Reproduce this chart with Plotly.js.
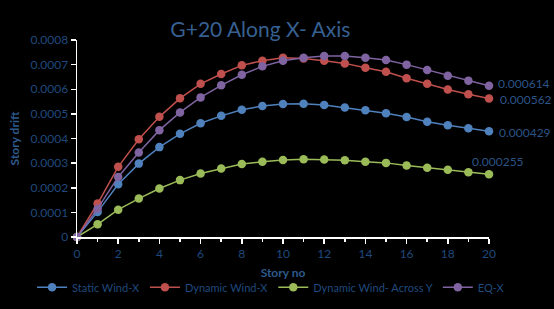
<!DOCTYPE html>
<html>
<head>
<meta charset="utf-8">
<script src="https://cdn.plot.ly/plotly-3.0.1.min.js"></script>
<style>html,body{margin:0;padding:0;background:#000;}#chart{width:554px;height:309px;}</style>
</head>
<body>
<div id="chart"></div>
<script>
var storyNo = [0,1,2,3,4,5,6,7,8,9,10,11,12,13,14,15,16,17,18,19,20];
var staticWindX = [0,0.000102,0.000214,0.000298,0.000365,0.000419,0.000462,0.000492,0.000517,0.000532,0.000540,0.000541,0.000536,0.000526,0.000515,0.000503,0.000487,0.000468,0.000454,0.000442,0.000429];
var dynamicWindX = [0,0.000136,0.000285,0.000397,0.000488,0.000563,0.000622,0.000662,0.000697,0.000716,0.000728,0.000725,0.000716,0.000705,0.000687,0.000671,0.000645,0.000622,0.000599,0.000580,0.000562];
var dynamicWindAcrossY = [0,0.0000515,0.000111,0.000156,0.000197,0.000231,0.000258,0.000278,0.000296,0.000306,0.000313,0.000316,0.000315,0.000312,0.000306,0.000301,0.000290,0.000281,0.000273,0.000263,0.000255];
var eqX = [0,0.000115,0.000244,0.000343,0.000434,0.000506,0.000567,0.000616,0.000659,0.000693,0.000716,0.000728,0.000735,0.000735,0.000728,0.000719,0.000700,0.000678,0.000655,0.000635,0.000614];
var seriesNames = ["Static Wind-X","Dynamic Wind-X","Dynamic Wind- Across Y","EQ-X"];
var lastLabels = ["0.000429","0.000562","0.000255","0.000614"];
var yTickVals = [0,0.0001,0.0002,0.0003,0.0004,0.0005,0.0006,0.0007,0.0008];
var yTickText = ["0","0.0001","0.0002","0.0003","0.0004","0.0005","0.0006","0.0007","0.0008"];

var colors = ["#4F81BD","#C0504D","#9BBB59","#8064A2"];
var seriesData = [staticWindX, dynamicWindX, dynamicWindAcrossY, eqX];
var textColor = "#1F497D";
var FONT = "Lato, 'Open Sans', sans-serif";

var traces = seriesData.map(function(vals, i){
  return {
    x: storyNo, y: vals, name: seriesNames[i], type: "scatter",
    mode: "lines+markers",
    line: {color: colors[i], width: 1.5},
    marker: {color: colors[i], size: 8.5},
    cliponaxis: false
  };
});

// data labels for the last point of each series
var labelStyle = [
  {dx: 8, dy: -1, xa: "left", ya: "middle"},
  {dx: 9, dy: -1, xa: "left", ya: "middle"},
  {dx: 9, dy: 3, xa: "center", ya: "bottom"},
  {dx: 7, dy: 2, xa: "left", ya: "middle"}
];
var annotations = seriesData.map(function(vals, i){
  var n = vals.length - 1;
  return {
    x: storyNo[n], y: vals[n], xref: "x", yref: "y", text: lastLabels[i], showarrow: false,
    xanchor: labelStyle[i].xa, yanchor: labelStyle[i].ya,
    xshift: labelStyle[i].dx, yshift: labelStyle[i].dy,
    font: {color: "#2B5486", size: 12, family: FONT}
  };
});

var layout = {
  width: 554, height: 309,
  paper_bgcolor: "#000000", plot_bgcolor: "#000000",
  margin: {l: 77, r: 65, t: 40, b: 72, autoexpand: false},
  font: {family: FONT, color: textColor},
  title: {text: "G+20 Along X- Axis", font: {size: 21, color: "#376092", family: FONT}, x: 0.47, xanchor: "center", y: 0.905, yanchor: "middle"},
  xaxis: {
    range: [0, 20], dtick: 2, tick0: 0, showgrid: false, zeroline: false,
    showline: true, linecolor: "#FFFFFF", linewidth: 1.5,
    ticks: "outside", ticklen: 5, tickcolor: "#FFFFFF", tickwidth: 1.5,
    minor: {dtick: 1, ticks: "outside", ticklen: 3, tickcolor: "#FFFFFF"},
    tickfont: {size: 12, color: textColor, family: FONT},
    title: {text: "<b>Story no</b>", font: {size: 12, color: "#2E5A8C", family: FONT}, standoff: 8}
  },
  yaxis: {
    range: [0, 0.0008], tickmode: "array", tickvals: yTickVals, ticktext: yTickText,
    showgrid: false, zeroline: false,
    showline: true, linecolor: "#FFFFFF", linewidth: 1.5,
    ticks: "outside", ticklen: 5, tickcolor: "#FFFFFF", tickwidth: 1.5,
    tickfont: {size: 12, color: textColor, family: FONT},
    title: {text: "<b>Story drift</b>", font: {size: 12, color: "#2E5A8C", family: FONT}, standoff: 8}
  },
  annotations: annotations,
  legend: {
    orientation: "h", x: -0.109, xanchor: "left", y: -0.255, yanchor: "middle",
    font: {size: 11, color: textColor, family: FONT}, bgcolor: "rgba(0,0,0,0)",
    tracegroupgap: 0
  },
  showlegend: true
};

Plotly.newPlot("chart", traces, layout, {displayModeBar: false, staticPlot: true});
</script>
</body>
</html>
